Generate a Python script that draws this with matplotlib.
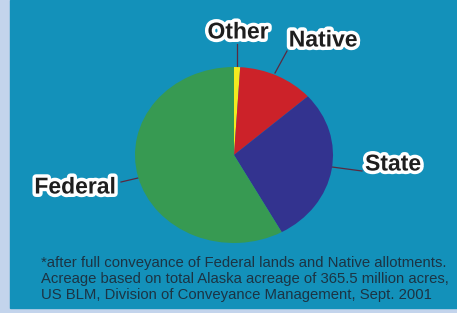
import matplotlib
matplotlib.use("Agg")
import matplotlib.pyplot as plt
import matplotlib.patheffects as pe
from matplotlib.patches import Rectangle

# land ownership shares (percent), clockwise from top
labels = ["Other", "Native", "State", "Federal"]
shares = [1.0, 12.4, 28.6, 58.0]
colors = ["#f3ea1f", "#cc2229", "#33338f", "#379a52"]

# label centres and leader lines, in pixels from top-left
label_pos = [(238, 32), (323, 40), (393, 164), (75, 187)]
leaders = [((237, 44), (237, 67)), ((287, 51), (275, 73)),
           ((362, 171), (332, 167)), ((121, 182), (138, 178))]

footnote = ["*after full conveyance of Federal lands and Native allotments.",
            "Acreage based on total Alaska acreage of 365.5 million acres,",
            "US BLM, Division of Conveyance Management, Sept. 2001"]

W, H = 457, 313
fig = plt.figure(figsize=(W / 100, H / 100), dpi=100)
fig.patch.set_facecolor("#c3d4ec")
fig.patches.append(Rectangle((10 / W, 5 / H), 1 - 10 / W, 1 - 5 / H,
                             transform=fig.transFigure, color="#1391ba", zorder=-5))

ax = fig.add_axes([135 / W, 70 / H, 198 / W, 176 / H])
ax.set_zorder(2)
ax.pie(shares, colors=colors, startangle=90, counterclock=False,
       wedgeprops=dict(linewidth=0))
ax.set_aspect("auto")
ax.set_xlim(-1, 1)
ax.set_ylim(-1, 1)
ax.axis("off")

for (x0, y0), (x1, y1) in leaders:
    fig.add_artist(plt.Line2D([x0 / W, x1 / W], [1 - y0 / H, 1 - y1 / H],
                              transform=fig.transFigure, color="#5a2a40", lw=0.9))

for lab, (x, y) in zip(labels, label_pos):
    t = fig.text(x / W, 1 - y / H, lab, ha="center", va="center",
                 fontsize=16.5, fontweight="bold", family="Liberation Sans", color="#1e1e1e",
                 path_effects=[pe.withStroke(linewidth=5, foreground="white")])
    t.set_zorder(3)

for i, line in enumerate(footnote):
    fig.text(41 / W, 1 - (263 + 16 * i) / H, line, ha="left", va="center",
             fontsize=10.7, family="Liberation Sans", color="#1c3444")

fig.savefig("out.png", dpi=100, facecolor=fig.get_facecolor())
